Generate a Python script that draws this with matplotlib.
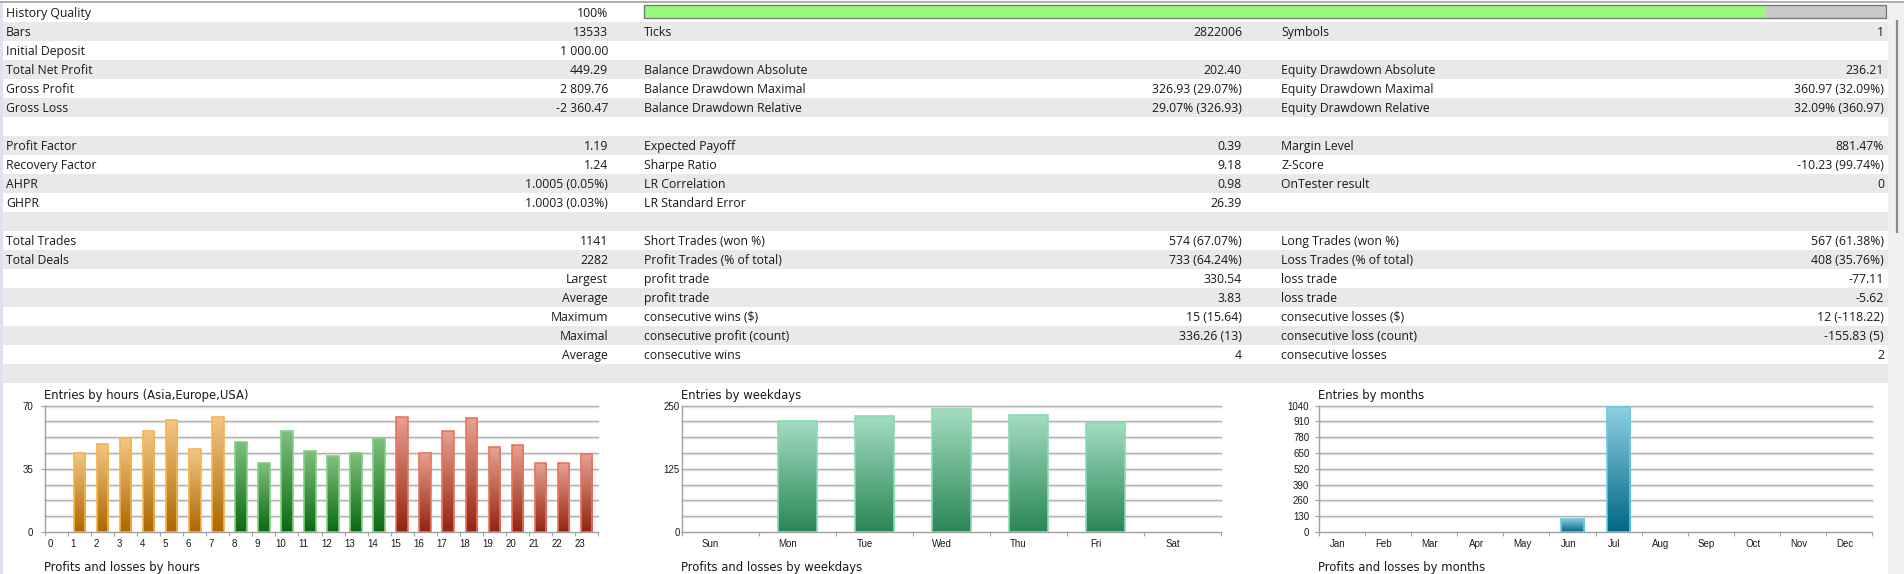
import numpy as np
import matplotlib
matplotlib.use('Agg')
import matplotlib.pyplot as plt
from matplotlib.patches import Rectangle
from matplotlib.colors import LinearSegmentedColormap
from matplotlib.transforms import offset_copy

plt.rcParams['font.family'] = ['Liberation Sans', 'DejaVu Sans']

W, H = 1904, 574

# report table, one list per column, one entry per row
col1_labels = ['History Quality', 'Bars', 'Initial Deposit', 'Total Net Profit', 'Gross Profit', 'Gross Loss', '',
               'Profit Factor', 'Recovery Factor', 'AHPR', 'GHPR', '',
               'Total Trades', 'Total Deals', '', '', '', '', '']
col1_values = ['100%', '13533', '1 000.00', '449.29', '2 809.76', '-2 360.47', '',
               '1.19', '1.24', '1.0005 (0.05%)', '1.0003 (0.03%)', '',
               '1141', '2282', 'Largest', 'Average', 'Maximum', 'Maximal', 'Average']
col2_labels = ['', 'Ticks', '', 'Balance Drawdown Absolute', 'Balance Drawdown Maximal', 'Balance Drawdown Relative', '',
               'Expected Payoff', 'Sharpe Ratio', 'LR Correlation', 'LR Standard Error', '',
               'Short Trades (won %)', 'Profit Trades (% of total)', 'profit trade', 'profit trade',
               'consecutive wins ($)', 'consecutive profit (count)', 'consecutive wins']
col2_values = ['', '2822006', '', '202.40', '326.93 (29.07%)', '29.07% (326.93)', '',
               '0.39', '9.18', '0.98', '26.39', '',
               '574 (67.07%)', '733 (64.24%)', '330.54', '3.83', '15 (15.64)', '336.26 (13)', '4']
col3_labels = ['', 'Symbols', '', 'Equity Drawdown Absolute', 'Equity Drawdown Maximal', 'Equity Drawdown Relative', '',
               'Margin Level', 'Z-Score', 'OnTester result', '', '',
               'Long Trades (won %)', 'Loss Trades (% of total)', 'loss trade', 'loss trade',
               'consecutive losses ($)', 'consecutive loss (count)', 'consecutive losses']
col3_values = ['', '1', '', '236.21', '360.97 (32.09%)', '32.09% (360.97)', '',
               '881.47%', '-10.23 (99.74%)', '0', '', '',
               '567 (61.38%)', '408 (35.76%)', '-77.11', '-5.62', '12 (-118.22)', '-155.83 (5)', '2']
quality_bar = 0.903

# entries charts
hours = [str(h) for h in range(24)]
hour_entries = [0, 44, 49, 52, 56, 62, 46, 64, 50, 38, 56, 45, 42, 44, 52, 64, 44, 56, 63, 47, 48, 38, 38, 43]
hour_session = ['asia'] * 8 + ['europe'] * 7 + ['usa'] * 9
weekdays = ['Sun', 'Mon', 'Tue', 'Wed', 'Thu', 'Fri', 'Sat']
weekday_entries = [0, 220, 230, 243, 232, 216, 0]
months = ['Jan', 'Feb', 'Mar', 'Apr', 'May', 'Jun', 'Jul', 'Aug', 'Sep', 'Oct', 'Nov', 'Dec']
month_entries = [0, 0, 0, 0, 0, 110, 1031, 0, 0, 0, 0, 0]

palette = {
    'asia': ('#f3c787', '#ad6700', '#f6b44a'),
    'europe': ('#80c080', '#0b6912', '#82d282'),
    'usa': ('#e6a292', '#93240f', '#ec735d'),
    'week': ('#a4ddc1', '#2a8656', '#88dbb0'),
    'month': ('#8fd1e4', '#006784', '#6bc8e8'),
}

fig = plt.figure(figsize=(W / 100, H / 100), dpi=100)
bg = fig.add_axes([0, 0, 1, 1])
bg.set_xlim(0, W)
bg.set_ylim(H, 0)
bg.axis('off')

# page frame
bg.add_patch(Rectangle((0, 0), W, H, color='white', zorder=0))
bg.plot([0, W], [1.5, 1.5], color='#a0a0a0', lw=1.2)
bg.add_patch(Rectangle((0, 2), 2.5, H, color='#dce3ec', lw=0))
bg.add_patch(Rectangle((1888, 2.5), W - 1888, H, color='#f0f0f0', lw=0))
bg.plot([1897, 1897], [20, 233], color='#8a8a8a', lw=1.6, solid_capstyle='butt')

row_h = 19
top = 3
for i in range(len(col1_labels) + 1):
    if i % 2 == 1:
        bg.add_patch(Rectangle((3, top + row_h * i), 1885, row_h, color='#e9e9e9', lw=0))

txt = dict(fontsize=8.8, color='#1a1a1a', va='baseline', family=['Open Sans', 'DejaVu Sans'])
for i in range(len(col1_labels)):
    y = top + row_h * i + 13.8
    bg.text(6, y, col1_labels[i], ha='left', **txt)
    bg.text(608, y, col1_values[i], ha='right', **txt)
    bg.text(644, y, col2_labels[i], ha='left', **txt)
    bg.text(1242, y, col2_values[i], ha='right', **txt)
    bg.text(1281, y, col3_labels[i], ha='left', **txt)
    bg.text(1884, y, col3_values[i], ha='right', **txt)

# history quality bar
bx0, bx1 = 644, 1886
bg.add_patch(Rectangle((bx0, 5), bx1 - bx0, 13, facecolor='#c8c8c8', edgecolor='none'))
bg.add_patch(Rectangle((bx0, 5), (bx1 - bx0) * quality_bar, 13, facecolor='#98fa7c', edgecolor='none'))
bg.add_patch(Rectangle((bx0, 5), bx1 - bx0, 13, facecolor='none', edgecolor='#7a7a7a', lw=1))


def px_axes(x0, x1, y0, y1):
    return fig.add_axes([x0 / W, 1 - y1 / H, (x1 - x0) / W, (y1 - y0) / H])


def grad_bars(ax, x, h, colors):
    x = np.asarray(x, dtype=float)
    h = np.asarray(h, dtype=float)
    keep = h > 0
    grad = np.linspace(0, 1, 256).reshape(-1, 1)
    for xi, hi, c in zip(x[keep], h[keep], [colors[k] for k in np.where(keep)[0]]):
        t, b, e = palette[c]
        bar = ax.bar(xi, hi, width=0.5, color='none', edgecolor=e, linewidth=1.2, zorder=4)[0]
        cmap = LinearSegmentedColormap.from_list('g', [b, t])
        im = ax.imshow(grad, cmap=cmap, origin='lower', aspect='auto', zorder=3,
                       extent=[bar.get_x(), bar.get_x() + bar.get_width(), 0, hi])
        im.set_clip_path(bar)


def style_chart(ax, ncat, ymax, yticks, cats, title, sub, lab_off, ylen, ypad):
    ax.set_xlim(0, ncat)
    ax.set_ylim(0, ymax)
    ax.patch.set_visible(False)
    for s in ['top', 'right']:
        ax.spines[s].set_visible(False)
    for s in ['left', 'bottom']:
        ax.spines[s].set_color('#a0a0a0')
        ax.spines[s].set_linewidth(1)
    ytr = ax.get_yaxis_transform()
    shade = offset_copy(ytr, fig=fig, y=-1, units='dots')
    for v in np.linspace(0, ymax, 9)[1:]:
        ax.plot([0, 1], [v, v], color='#a9a9a9', lw=1, zorder=1, clip_on=False, transform=ytr)
        ax.plot([0, 1], [v, v], color='#dcdcdc', lw=1, zorder=1, clip_on=False, transform=shade)
    ax.set_xticks(np.arange(ncat + 1))
    ax.set_xticklabels([])
    ax.set_xticks(np.arange(ncat) + lab_off, minor=True)
    ax.set_xticklabels(cats, minor=True)
    ax.tick_params(axis='x', which='major', length=3, color='#a0a0a0')
    ax.tick_params(axis='x', which='minor', length=0, pad=5, labelsize=7, labelcolor='#1a1a1a')
    ax.set_yticks(yticks)
    ax.set_yticklabels([str(v) for v in yticks])
    ax.tick_params(axis='y', length=ylen, pad=ypad, color='#a0a0a0', labelsize=7, labelcolor='#1a1a1a')
    x0 = ax.get_position().x0
    head = dict(fontsize=8.4, color='#1a1a1a', va='center', ha='left', family=['DejaVu Sans'])
    fig.text(x0 - 1 / W, 1 - 396 / H, title, **head)
    fig.text(x0 - 1 / W, 1 - 567 / H, sub, **head)


ax1 = px_axes(45, 598, 405.7, 532)
grad_bars(ax1, np.arange(24) + 0.5, hour_entries, hour_session)
style_chart(ax1, 24, 70, [0, 35, 70], hours, 'Entries by hours (Asia,Europe,USA)',
            'Profits and losses by hours', 0.22, 3, 5.5)

ax2 = px_axes(682, 1221, 405.7, 532)
grad_bars(ax2, np.arange(7) + 0.5, weekday_entries, ['week'] * 7)
style_chart(ax2, 7, 250, [0, 125, 250], weekdays, 'Entries by weekdays',
            'Profits and losses by weekdays', 0.37, 0, 1.5)

ax3 = px_axes(1319, 1872, 405.7, 532)
grad_bars(ax3, np.arange(12) + 0.5, month_entries, ['month'] * 12)
style_chart(ax3, 12, 1040, list(range(0, 1041, 130)), months, 'Entries by months',
            'Profits and losses by months', 0.41, 3, 4)

fig.savefig('out.png', dpi=100)
